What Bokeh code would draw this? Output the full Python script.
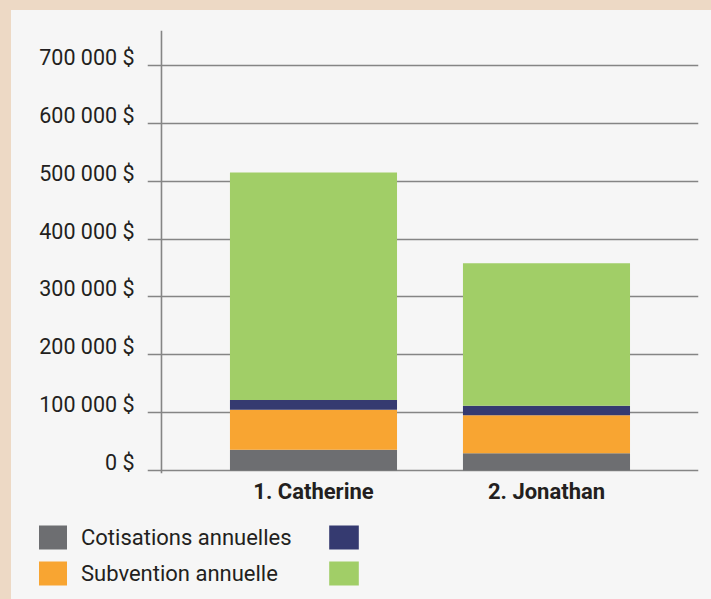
from bokeh.plotting import figure
from bokeh.layouts import column
from bokeh.models import Range1d, FixedTicker, Span, Legend, LegendItem, ColumnDataSource
from bokeh.embed import file_html
from bokeh.resources import INLINE

# ---- data ----
categories = ["1. Catherine", "2. Jonathan"]
cotisations = [36000, 30000]
subvention = [69000, 65500]
serie_3 = [17000, 16500]
serie_4 = [393000, 246000]
series_keys = ["cotisations", "subvention", "serie_3", "serie_4"]
series_labels = ["Cotisations annuelles", "Subvention annuelle", " ", " "]
colors = ["#6d6e71", "#f8a532", "#353a70", "#a1ce67"]
y_ticks = [0, 100000, 200000, 300000, 400000, 500000, 600000, 700000]
y_tick_labels = ["0 $", "100 000 $", "200 000 $", "300 000 $", "400 000 $",
                 "500 000 $", "600 000 $", "700 000 $"]

xpos = [i + 1 for i in range(len(categories))]
src = ColumnDataSource(dict(x=xpos, cotisations=cotisations, subvention=subvention,
                            serie_3=serie_3, serie_4=serie_4))

TEXT = "#231f20"
GRID = "#858585"
FONT = "Roboto"
BAR_W = 0.717

p = figure(width=695, height=502,
           x_range=Range1d(0.2876, 2.6524), y_range=Range1d(-5200, 760500),
           output_backend="svg", toolbar_location=None,
           min_border_left=139, min_border_right=5, min_border_top=22, min_border_bottom=37)
p.border_fill_alpha = 0
p.background_fill_alpha = 0
p.outline_line_color = None
p.frame_align = False

rs = p.vbar_stack(series_keys, x="x", width=BAR_W, fill_color=colors, line_color=None, source=src)

# grid
p.xgrid.visible = False
p.ygrid.ticker = FixedTicker(ticks=y_ticks)
p.ygrid.grid_line_color = GRID
p.ygrid.grid_line_width = 1.6

# y axis: labels sit just above their grid line (about 8 px), as in the reference
label_lift = 8 * (760500 + 5200) / 443
label_pos = [t + label_lift for t in y_ticks]
yax = p.yaxis[0]
yax.ticker = FixedTicker(ticks=label_pos)
yax.major_label_overrides = dict(zip(label_pos, y_tick_labels))
yax.axis_line_color = None
yax.major_tick_line_color = None
yax.minor_tick_line_color = None
yax.major_tick_out = 0
yax.major_tick_in = 0
yax.major_label_standoff = 13
yax.major_label_text_font = FONT
yax.major_label_text_font_size = "21.5px"
yax.major_label_text_color = TEXT

# x axis
xax = p.xaxis[0]
xax.ticker = FixedTicker(ticks=xpos)
xax.major_label_overrides = dict(zip(xpos, categories))
xax.axis_line_color = None
xax.major_tick_line_color = None
xax.minor_tick_line_color = None
xax.major_tick_out = 0
xax.major_tick_in = 0
xax.major_label_standoff = 5
xax.major_label_text_font = FONT
xax.major_label_text_font_style = "bold"
xax.major_label_text_font_size = "22px"
xax.major_label_text_color = TEXT

# vertical axis line
p.add_layout(Span(location=0.3476, dimension="height", line_color=GRID, line_width=1.6))

# ---- legend strip (separate figure below the chart) ----
lp = figure(width=695, height=81, x_range=Range1d(0, 1), y_range=Range1d(0, 1),
            output_backend="svg", toolbar_location=None,
            x_axis_location=None, y_axis_location=None, min_border=0)
lp.border_fill_alpha = 0
lp.background_fill_alpha = 0
lp.outline_line_color = None
lp.grid.visible = False
lp.frame_align = False
lrs = lp.vbar_stack(series_keys, x="x", width=BAR_W, fill_color=colors, line_color=None, source=src)
for r in lrs:
    r.visible = False

def make_legend(items, loc, gw):
    return Legend(items=items, location=loc, orientation="vertical",
                  glyph_width=gw, glyph_height=30, label_standoff=11,
                  label_text_font=FONT, label_text_font_size="22px", label_text_color=TEXT,
                  spacing=6, padding=0, margin=0, border_line_color=None,
                  background_fill_alpha=0, label_height=24, label_width=0,
                  click_policy="none")

leg1 = make_legend([LegendItem(label=series_labels[0], renderers=[lrs[0]]),
                    LegendItem(label=series_labels[1], renderers=[lrs[1]])], (27, 3), 35)
leg2 = make_legend([LegendItem(label=series_labels[2], renderers=[lrs[2]]),
                    LegendItem(label=series_labels[3], renderers=[lrs[3]])], (317, 3), 37)
lp.add_layout(leg1)
lp.add_layout(leg2)

layout = column(p, lp, spacing=0)

STYLE = """<style>
html { background: linear-gradient(to right, #edd9c5 11px, rgba(237,217,197,0) 11px), linear-gradient(to bottom, #edd9c5 10px, #f6f6f6 10px) !important; overflow: hidden !important; margin: 0 !important; padding: 0 !important; }
body { margin: 8px !important; padding: 0 !important; height: auto !important; background: transparent !important; overflow: hidden !important; }
</style>"""
template = ("{% block preamble %}" + STYLE + "{% endblock %}"
            "{% block postamble %}" + STYLE + "{% endblock %}")

open("out.html", "w").write(file_html(layout, INLINE, title="Graphique", template=template))
